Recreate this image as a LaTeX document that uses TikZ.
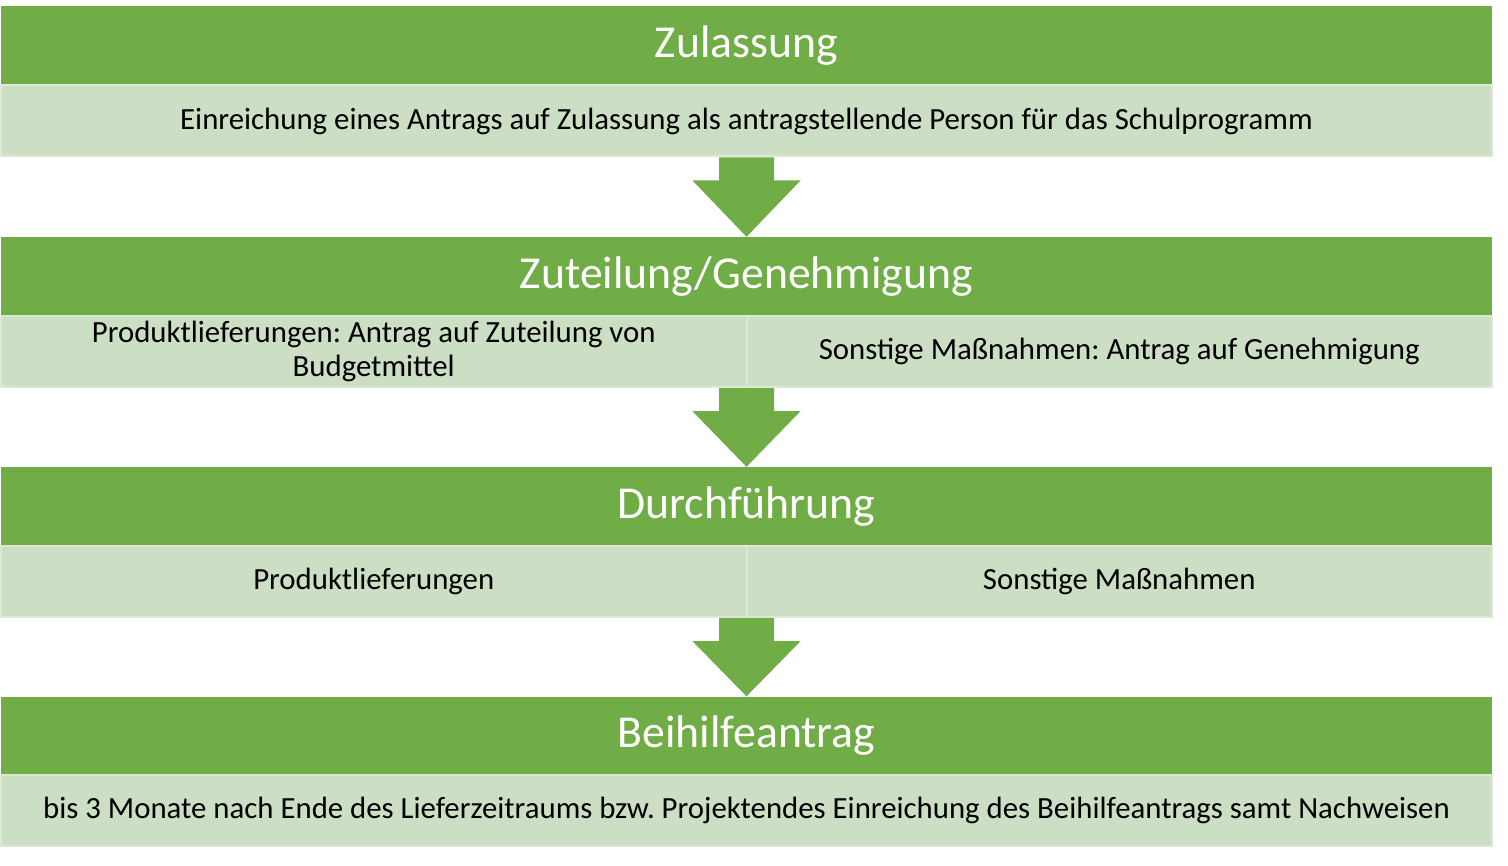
\documentclass[tikz,border=0pt]{standalone}
\usepackage{fontspec}
\setmainfont{Carlito}
\usetikzlibrary{calc}
\frenchspacing
\definecolor{hdgreen}{HTML}{70AD47}
\definecolor{lightgreen}{HTML}{CCDEC3}
\definecolor{edgegreen}{HTML}{DCE8D5}
\tikzset{
  headbar/.style={fill=hdgreen, draw=none, minimum width=1491pt, minimum height=79pt, inner sep=0pt, text=white, font=\fontsize{45.7}{54}\selectfont},
  fullbar/.style={fill=lightgreen, draw=edgegreen, line width=2pt, minimum width=1491pt, minimum height=71pt, inner sep=0pt, text=black, font=\fontsize{30.8}{34}\selectfont},
  halfbar/.style={fill=lightgreen, draw=edgegreen, line width=2pt, minimum width=745.5pt, minimum height=71pt, inner sep=0pt, text=black, align=center, font=\fontsize{30.8}{34}\selectfont},
  downarrow/.style={fill=hdgreen, draw=none}
}
\newcommand{\flowarrow}[2]{%
  \path let \p1=(#1.south), \p2=(#2.north) in
    coordinate (aT) at (\x1,\y1) coordinate (aB) at (\x2,\y2);
  \fill[downarrow] ($(aT)+(-27.5pt,0)$) -- ($(aT)+(27.5pt,0)$) -- ($(aT)+(27.5pt,-23pt)$)
     -- ($(aT)+(54pt,-23pt)$) -- (aB) -- ($(aT)+(-54pt,-23pt)$) -- ($(aT)+(-27.5pt,-23pt)$) -- cycle;
}
\begin{document}
\begin{tikzpicture}[x=1pt,y=-1pt]
\useasboundingbox (0,0) rectangle (1508,866);
% Stage 1
\node[headbar] (h1) at (746.5,45.5) {Zulassung};
\node[fullbar] (b1) at (746.5,121) {Einreichung eines Antrags auf Zulassung als antragstellende Person für das Schulprogramm};
% Stage 2
\node[headbar] (h2) at (746.5,276.5) {Zuteilung/Genehmigung};
\node[halfbar] (b2l) at (373.75,351.5) {Produktlieferungen: Antrag auf Zuteilung von\\Budgetmittel};
\node[halfbar] (b2r) at (1119.25,351.5) {Sonstige Maßnahmen: Antrag auf Genehmigung};
% Stage 3
\node[headbar] (h3) at (746.5,506.5) {Durchführung};
\node[halfbar] (b3l) at (373.75,581.5) {Produktlieferungen};
\node[halfbar] (b3r) at (1119.25,581.5) {Sonstige Maßnahmen};
% Stage 4
\node[headbar] (h4) at (746.5,736) {Beihilfeantrag};
\node[fullbar] (b4) at (746.5,810.5) {bis 3 Monate nach Ende des Lieferzeitraums bzw. Projektendes Einreichung des Beihilfeantrags samt Nachweisen};
% Arrows
\node[inner sep=0pt, minimum size=0pt] (c2) at ($(b2l.south east)!0.5!(b2r.south west)$) {};
\node[inner sep=0pt, minimum size=0pt] (c3) at ($(b3l.south east)!0.5!(b3r.south west)$) {};
\flowarrow{b1}{h2}
\flowarrow{c2}{h3}
\flowarrow{c3}{h4}
\end{tikzpicture}
\end{document}
